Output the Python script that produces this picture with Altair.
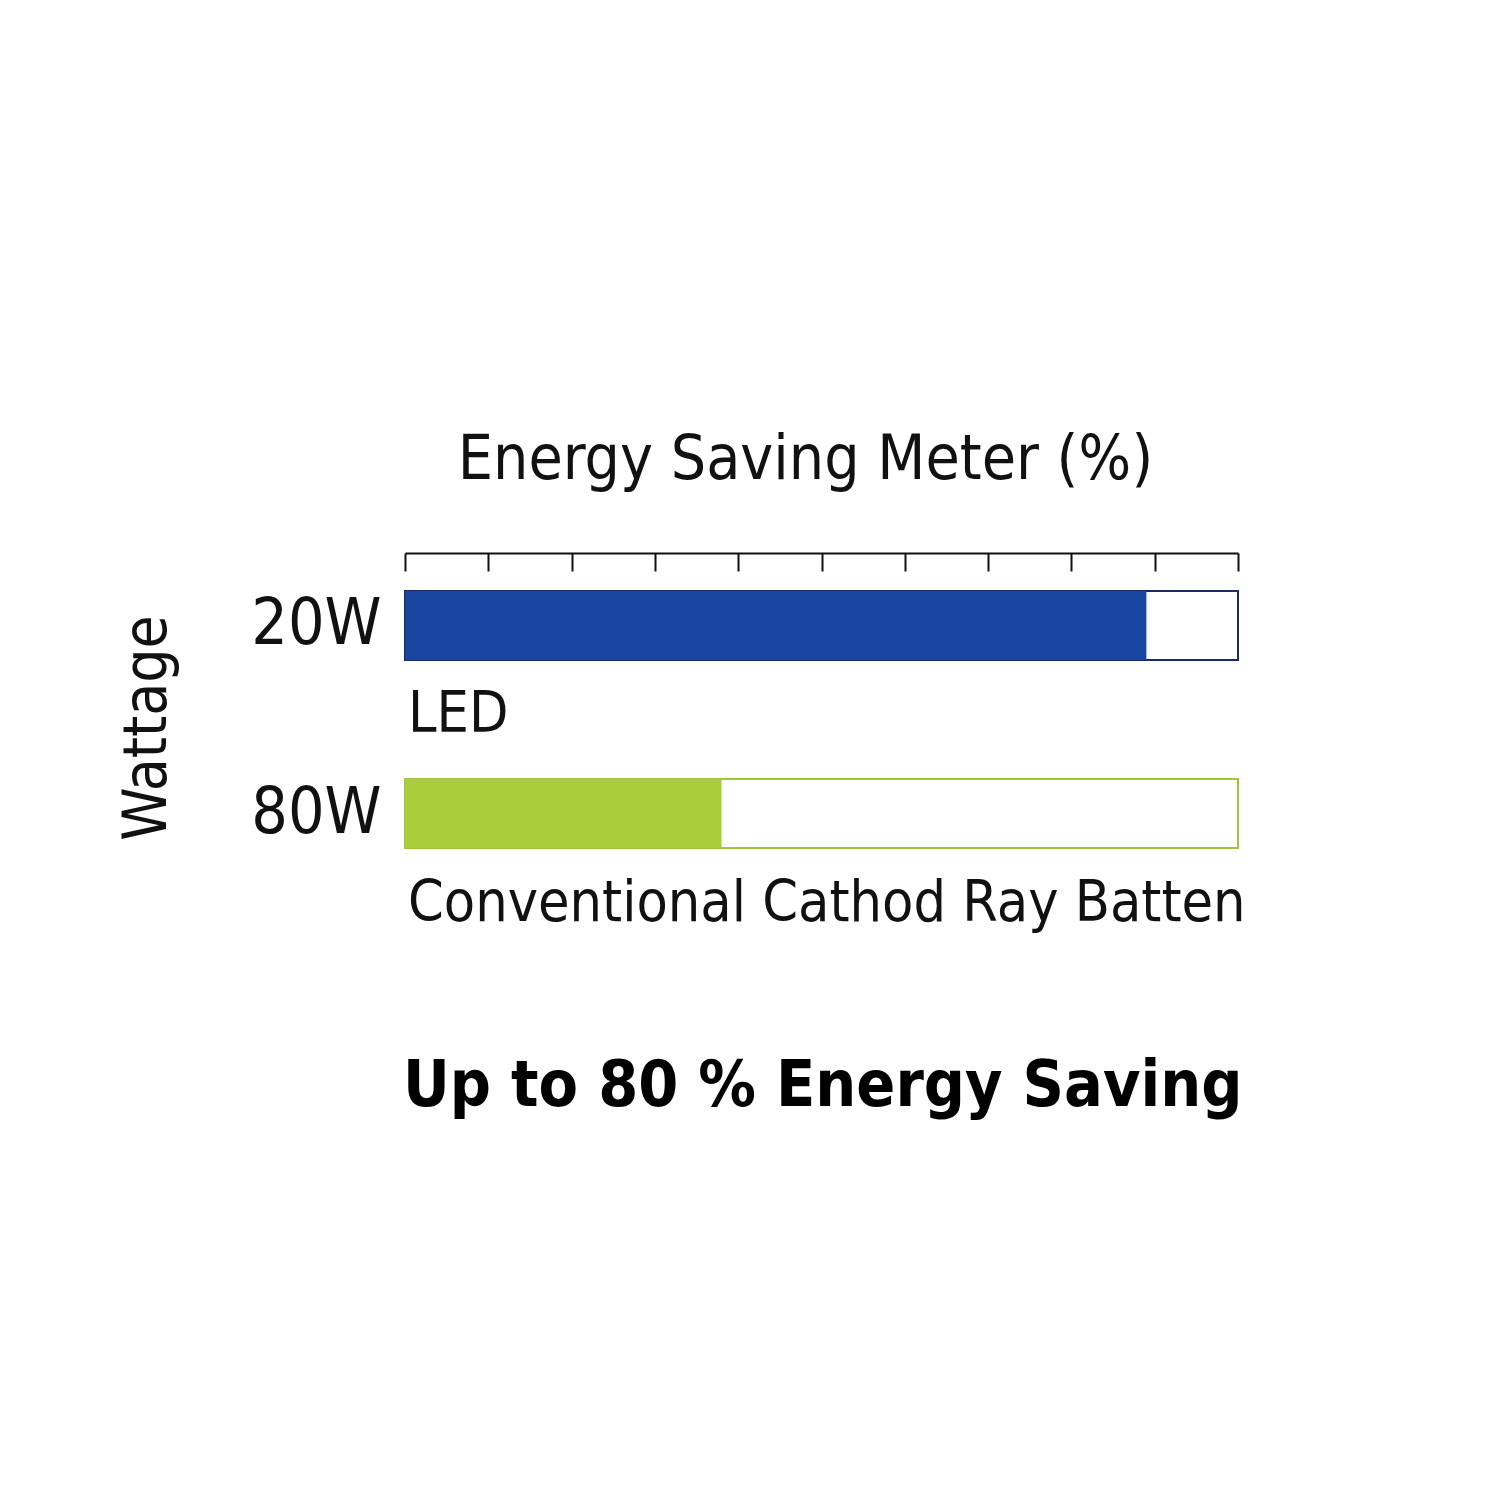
import altair as alt
import pandas as pd

# Data
wattage = ["20W", "80W"]
kind = ["LED", "Conventional Cathod Ray Batten"]
saving = [89, 38]
full = [100, 100]
fill_colors = ["#18469e", "#a8ce3b"]
edge_colors = ["#1b2a6b", "#9fc63a"]
tick_values = [0, 10, 20, 30, 40, 50, 60, 70, 80, 90, 100]

df = pd.DataFrame({
    "wattage": wattage,
    "kind": kind,
    "saving": saving,
    "full": full,
    "fill": fill_colors,
    "edge": edge_colors,
})

FONT = "DejaVu Sans Condensed, Roboto, sans-serif"

W, H = 833, 333

x_scale = alt.Scale(domain=[0, 100], nice=False, zero=True)
y_scale = alt.Scale(domain=wattage, paddingInner=0.5, paddingOuter=0.1356)

base = alt.Chart(df)

bg = base.mark_bar(size=69, fill="white", strokeWidth=2).encode(
    x=alt.X("full:Q", scale=x_scale,
            axis=alt.Axis(orient="bottom", offset=-H, values=tick_values, labels=False,
                          tickSize=18, tickWidth=2, tickColor="#111111",
                          domainColor="#111111", domainWidth=2, grid=False, title=None)),
    y=alt.Y("wattage:N", scale=y_scale, sort=wattage,
            axis=alt.Axis(title="Wattage", labelFont=FONT, labelFontSize=64, labelColor="#111111",
                          labelPadding=24, ticks=False, domain=False, grid=False,
                          titleFont=FONT, titleFontSize=60, titleFontWeight="normal",
                          titleColor="#111111", titlePadding=72, titleY=H / 2 + 8)),
    stroke=alt.Stroke("edge:N", scale=None),
)

fg = base.mark_bar(size=69).encode(
    x=alt.X("saving:Q", scale=x_scale),
    y=alt.Y("wattage:N", scale=y_scale, sort=wattage),
    fill=alt.Fill("fill:N", scale=None),
)

labels = base.mark_text(align="left", baseline="alphabetic", font=FONT, fontSize=57,
                        color="#111111", dx=3, dy=107).encode(
    x=alt.value(0),
    y=alt.Y("wattage:N", scale=y_scale, sort=wattage),
    text="kind:N",
)

bottom = alt.Chart(pd.DataFrame({"t": ["Up to 80 % Energy Saving"]})).mark_text(
    align="left", baseline="alphabetic", font=FONT, fontSize=64, fontWeight="bold",
    color="#000000").encode(
    x=alt.value(-2),
    y=alt.value(553),
    text="t:N",
)

chart = alt.layer(bg, fg, labels, bottom).properties(
    width=W, height=H,
    background="white",
    title=alt.TitleParams("Energy Saving Meter (%)", font=FONT, fontSize=62,
                          fontWeight="normal", color="#111111", anchor="middle",
                          dx=-16, offset=60),
    autosize=alt.AutoSizeParams(type="none"),
    padding={"left": 397, "top": 545, "right": 250, "bottom": 600},
).configure_view(stroke="white", strokeWidth=0).configure_axis(grid=False)

chart.save("out.html", embed_options={"renderer": "svg", "actions": False})
